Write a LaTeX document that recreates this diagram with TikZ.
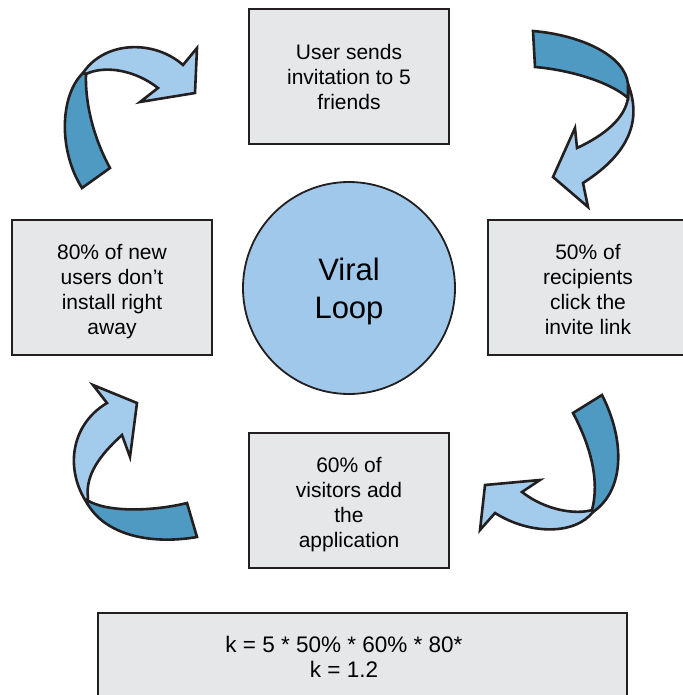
\documentclass[tikz,border=0pt]{standalone}
\usepackage{fontspec}
\setmainfont{Liberation Sans}
\usetikzlibrary{positioning}
\definecolor{boxGray}{HTML}{E6E7E9}
\definecolor{loopBlue}{HTML}{9FC8EB}
\definecolor{ribbonLight}{HTML}{A3CBEC}
\definecolor{ribbonDark}{HTML}{4E9AC2}
\definecolor{inkBlack}{HTML}{231F20}

\begin{document}
\begin{tikzpicture}[x=1pt, y=-1pt,
    stepbox/.style={draw=inkBlack, line width=2.2pt, fill=boxGray, minimum width=200pt,
      minimum height=135pt, inner sep=0pt},
    steptext/.style={align=center, inner sep=0pt, font=\fontsize{21}{25}\selectfont},
    ribbon/.style={draw=inkBlack, line width=2.6pt, line join=miter}]
  \useasboundingbox (0,0) rectangle (682,695);
  % the four steps round the loop, clockwise from the top
  \node[stepbox] (invite)  at (349,76.5)  {};
  \node[stepbox, minimum width=204pt] (click) at (590,287.5) {};
  \node[stepbox] (addApp)  at (349,500.5) {};
  \node[stepbox] (install) at (112,287.5) {};
  \node[steptext] (inviteText)  at (invite)                {User sends\\invitation to 5\\friends};
  \node[steptext] (clickText)   at ([xshift=-2pt,yshift=-2pt]click) {50\% of\\recipients\\click the\\invite link};
  \node[steptext] (addAppText)  at ([yshift=-4pt]addApp)   {60\% of\\visitors add\\the\\application};
  \node[steptext] (installText) at ([yshift=-4pt]install)  {80\% of new\\users don’t\\install right\\away};
  \node[circle, draw=inkBlack, line width=1.8pt, fill=loopBlue, minimum size=212pt] (loop) at (349,288) {};
  \node[align=center, font=\fontsize{31}{38}\selectfont] (loopText) at ([yshift=-3pt]loop) {Viral\\Loop};
  % the k factor at the foot
  \node[draw=inkBlack, line width=2.2pt, fill=boxGray, minimum width=529pt,
    minimum height=120pt] (kBox) at (362.5,673) {};
  \node[align=center, font=\fontsize{22.5}{25}\selectfont] (kText) at (344,657)
    {k = 5 * 50\% * 60\% * 80*\\k = 1.2};
  % twisted ribbon arrows between the steps
  % top left: install -> invite
  \filldraw[ribbon, fill=ribbonLight] (83,73) .. controls (105,40) and (155,40) .. (183,65)
    -- (197,48) -- (195,93) -- (140,102) -- (158,88)
    .. controls (135,70) and (105,65) .. (86,74) -- cycle;
  \filldraw[ribbon, fill=ribbonDark] (83,73) .. controls (60,95) and (58,150) .. (82,188)
    -- (110,168) .. controls (92,135) and (85,100) .. (86,74) -- cycle;
  % top right: invite -> click
  \filldraw[ribbon, fill=ribbonLight] (628,84) .. controls (640,115) and (635,150) .. (583,183)
    -- (588,207) -- (553,177) -- (575,128) -- (577,148)
    .. controls (605,135) and (625,118) .. (628,98) -- cycle;
  \filldraw[ribbon, fill=ribbonDark] (533,31) .. controls (580,35) and (625,55) .. (628,84)
    -- (628,98) .. controls (610,82) and (570,70) .. (535,67) -- cycle;
  % bottom right: click -> addApp
  \filldraw[ribbon, fill=ribbonLight] (593,512) .. controls (575,535) and (530,535) .. (495,513)
    -- (480,530) -- (485,485) -- (540,480) -- (522,492)
    .. controls (545,510) and (575,515) .. (592,510) -- cycle;
  \filldraw[ribbon, fill=ribbonDark] (573,413) .. controls (590,445) and (600,480) .. (592,510)
    -- (593,512) .. controls (625,490) and (625,440) .. (602,395) -- cycle;
  % bottom left: addApp -> install
  \filldraw[ribbon, fill=ribbonLight] (87,503) .. controls (65,470) and (70,425) .. (107,403)
    -- (93,385) -- (137,403) -- (130,457) -- (122,435)
    .. controls (100,455) and (85,475) .. (88,498) -- cycle;
  \filldraw[ribbon, fill=ribbonDark] (87,500) .. controls (105,512) and (150,512) .. (187,503)
    -- (197,537) .. controls (150,545) and (105,535) .. (87,503) -- cycle;
\end{tikzpicture}
\end{document}
